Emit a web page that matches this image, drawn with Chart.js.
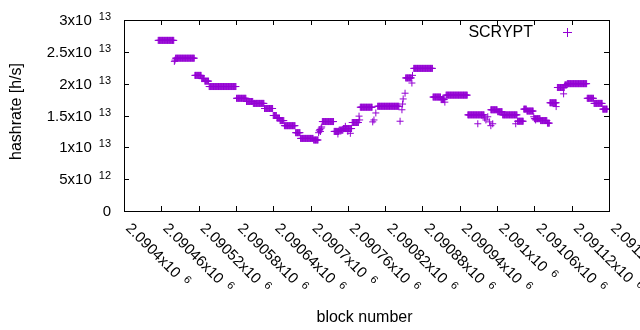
<!DOCTYPE html>
<html>
<head>
<meta charset="utf-8">
<script src="https://cdn.jsdelivr.net/npm/chart.js@4.4.0/dist/chart.umd.min.js"></script>
<style>
  html, body { margin: 0; padding: 0; background: #fff; }
  canvas { display: block; }
</style>
</head>
<body>
<canvas id="chart" width="640" height="330"></canvas>
<script>
// runs of consecutive blocks that share the same hashrate estimate
const runStart = [2090455, 2090483, 2090514, 2090525, 2090530, 2090537, 2090581, 2090597, 2090608, 2090626,
                  2090640, 2090646, 2090651, 2090658, 2090676, 2090684, 2090705, 2090719, 2090738, 2090746,
                  2090753, 2090767, 2090780, 2090808, 2090853, 2090866, 2090897, 2090910, 2090918, 2090953,
                  2090990, 2091001, 2091009, 2091033, 2091043, 2091048, 2091060, 2091070, 2091081, 2091085,
                  2091097, 2091109, 2091113, 2091145, 2091156, 2091170];
const runEnd   = [2090480, 2090513, 2090524, 2090529, 2090536, 2090580, 2090596, 2090607, 2090625, 2090639,
                  2090645, 2090650, 2090657, 2090675, 2090683, 2090704, 2090712, 2090737, 2090745, 2090752,
                  2090766, 2090777, 2090799, 2090842, 2090862, 2090896, 2090909, 2090915, 2090952, 2090979,
                  2091000, 2091008, 2091032, 2091042, 2091047, 2091058, 2091069, 2091080, 2091084, 2091095,
                  2091108, 2091112, 2091144, 2091155, 2091169, 2091177];
const runRate  = [2.68e13, 2.40e13, 2.13e13, 2.08e13, 2.04e13, 1.955e13, 1.77e13, 1.72e13, 1.69e13, 1.61e13,
                  1.50e13, 1.46e13, 1.42e13, 1.34e13, 1.23e13, 1.14e13, 1.115e13, 1.405e13, 1.25e13, 1.27e13,
                  1.295e13, 1.39e13, 1.63e13, 1.645e13, 2.09e13, 2.24e13, 1.79e13, 1.75e13, 1.82e13, 1.51e13,
                  1.59e13, 1.56e13, 1.51e13, 1.41e13, 1.60e13, 1.57e13, 1.45e13, 1.42e13, 1.38e13, 1.70e13,
                  1.94e13, 1.98e13, 2.00e13, 1.77e13, 1.69e13, 1.60e13];

// single blocks off the runs
const spotBlock = [2090481, 2090482, 2090713, 2090714, 2090715, 2090716, 2090717, 2090718, 2090744, 2090756,
                   2090760, 2090764, 2090778, 2090779, 2090800, 2090802, 2090805, 2090844, 2090847, 2090848,
                   2090849, 2090852, 2090863, 2090864, 2090913, 2090916, 2090969, 2090980, 2090982, 2090985,
                   2090988, 2090990, 2090993, 2091030, 2091059, 2091062, 2091095, 2091107];
const spotRate  = [2.35e13, 2.37e13, 1.23e13, 1.26e13, 1.28e13, 1.25e13, 1.30e13, 1.32e13, 1.21e13, 1.33e13,
                   1.25e13, 1.22e13, 1.49e13, 1.43e13, 1.40e13, 1.43e13, 1.54e13, 1.41e13, 1.59e13, 1.68e13,
                   1.76e13, 1.85e13, 2.01e13, 2.13e13, 1.77e13, 1.71e13, 1.37e13, 1.46e13, 1.43e13, 1.48e13,
                   1.40e13, 1.34e13, 1.37e13, 1.37e13, 1.48e13, 1.43e13, 1.64e13, 1.84e13];

const xTicks = [2090400, 2090460, 2090520, 2090580, 2090640, 2090700, 2090760,
                2090820, 2090880, 2090940, 2091000, 2091060, 2091120, 2091180];
const xTickLabels = ['2.0904x10^6', '2.09046x10^6', '2.09052x10^6', '2.09058x10^6', '2.09064x10^6',
                     '2.0907x10^6', '2.09076x10^6', '2.09082x10^6', '2.09088x10^6', '2.09094x10^6',
                     '2.091x10^6', '2.09106x10^6', '2.09112x10^6', '2.09118x10^6'];
const yTicks = [0, 5e12, 1e13, 1.5e13, 2e13, 2.5e13, 3e13];
const yTickLabels = ['0', '5x10^12', '1x10^13', '1.5x10^13', '2x10^13', '2.5x10^13', '3x10^13'];

const purple = '#9400d3';
const mainFont = '15px "Liberation Sans", Arial, sans-serif';
const expFont = '11px "Liberation Sans", Arial, sans-serif';
const titleFont = '16px "Liberation Sans", Arial, sans-serif';

// expand the runs into one point per block
const points = [];
runStart.forEach((s, i) => {
    for (let b = s; b <= runEnd[i]; b++) points.push({ x: b, y: runRate[i] });
});
spotBlock.forEach((b, i) => points.push({ x: b, y: spotRate[i] }));

// "mantissa x10^exp" drawn gnuplot style, exponent raised and smaller
function drawPowerText(ctx, str, x, y, align) {
    const parts = str.split('^');
    ctx.font = mainFont;
    const mainW = ctx.measureText(parts[0]).width;
    let expW = 0;
    const gap = parts[1] ? 7 : 0;
    if (parts[1]) {
        ctx.font = expFont;
        expW = ctx.measureText(parts[1]).width;
    }
    const start = align === 'right' ? x - mainW - gap - expW : x;
    ctx.textAlign = 'left';
    ctx.textBaseline = 'alphabetic';
    ctx.font = mainFont;
    ctx.fillText(parts[0], start, y);
    if (parts[1]) {
        ctx.font = expFont;
        ctx.fillText(parts[1], start + mainW + gap, y - 5);
    }
}

const frame = {
    id: 'frame',
    afterDatasetsDraw(chart) {
        const ctx = chart.ctx;
        const area = chart.chartArea;
        const xs = chart.scales.x;
        const ys = chart.scales.y;
        ctx.save();
        ctx.strokeStyle = '#000';
        ctx.fillStyle = '#000';
        ctx.lineWidth = 1;

        // border box
        ctx.strokeRect(area.left + 0.5, area.top + 0.5, area.right - area.left, area.bottom - area.top);

        // inward ticks on all four sides
        ctx.beginPath();
        yTicks.forEach(v => {
            const py = Math.round(ys.getPixelForValue(v)) + 0.5;
            ctx.moveTo(area.left, py); ctx.lineTo(area.left + 5, py);
            ctx.moveTo(area.right, py); ctx.lineTo(area.right - 5, py);
        });
        xTicks.forEach(v => {
            const px = Math.round(xs.getPixelForValue(v)) + 0.5;
            ctx.moveTo(px, area.bottom); ctx.lineTo(px, area.bottom - 5);
            ctx.moveTo(px, area.top); ctx.lineTo(px, area.top + 5);
        });
        ctx.stroke();

        // y tick labels
        yTicks.forEach((v, i) => {
            const py = ys.getPixelForValue(v);
            drawPowerText(ctx, yTickLabels[i], 111, py + 5, 'right');
        });

        // x tick labels, turned 45 degrees
        xTicks.forEach((v, i) => {
            const px = xs.getPixelForValue(v);
            ctx.save();
            ctx.translate(px + 1, 229);
            ctx.rotate(Math.PI / 4);
            drawPowerText(ctx, xTickLabels[i], 0, 0, 'left');
            ctx.restore();
        });

        // axis titles
        ctx.font = titleFont;
        ctx.textAlign = 'center';
        ctx.textBaseline = 'alphabetic';
        ctx.fillText('block number', (area.left + area.right) / 2 - 2, 322);
        ctx.save();
        ctx.translate(21, (area.top + area.bottom) / 2 - 4);
        ctx.rotate(-Math.PI / 2);
        ctx.fillText('hashrate [h/s]', 0, 0);
        ctx.restore();

        // key
        ctx.textAlign = 'right';
        ctx.fillText(chart.data.datasets[0].label, 533, 37);
        ctx.strokeStyle = purple;
        ctx.beginPath();
        ctx.moveTo(563, 32.5); ctx.lineTo(572, 32.5);
        ctx.moveTo(567.5, 28); ctx.lineTo(567.5, 37);
        ctx.stroke();
        ctx.restore();
    }
};

new Chart(document.getElementById('chart'), {
    type: 'scatter',
    data: {
        datasets: [{
            label: 'SCRYPT',
            data: points,
            pointStyle: 'cross',
            pointRadius: 3.5,
            pointHoverRadius: 3.5,
            borderColor: purple,
            backgroundColor: purple,
            borderWidth: 1
        }]
    },
    options: {
        responsive: false,
        animation: false,
        devicePixelRatio: 1,
        layout: { padding: { left: 124, right: 31, top: 20, bottom: 119 } },
        scales: {
            x: { type: 'linear', min: 2090400, max: 2091180, display: false },
            y: { type: 'linear', min: 0, max: 3e13, display: false }
        },
        plugins: {
            legend: { display: false },
            tooltip: { enabled: false }
        }
    },
    plugins: [frame]
});
</script>
</body>
</html>
